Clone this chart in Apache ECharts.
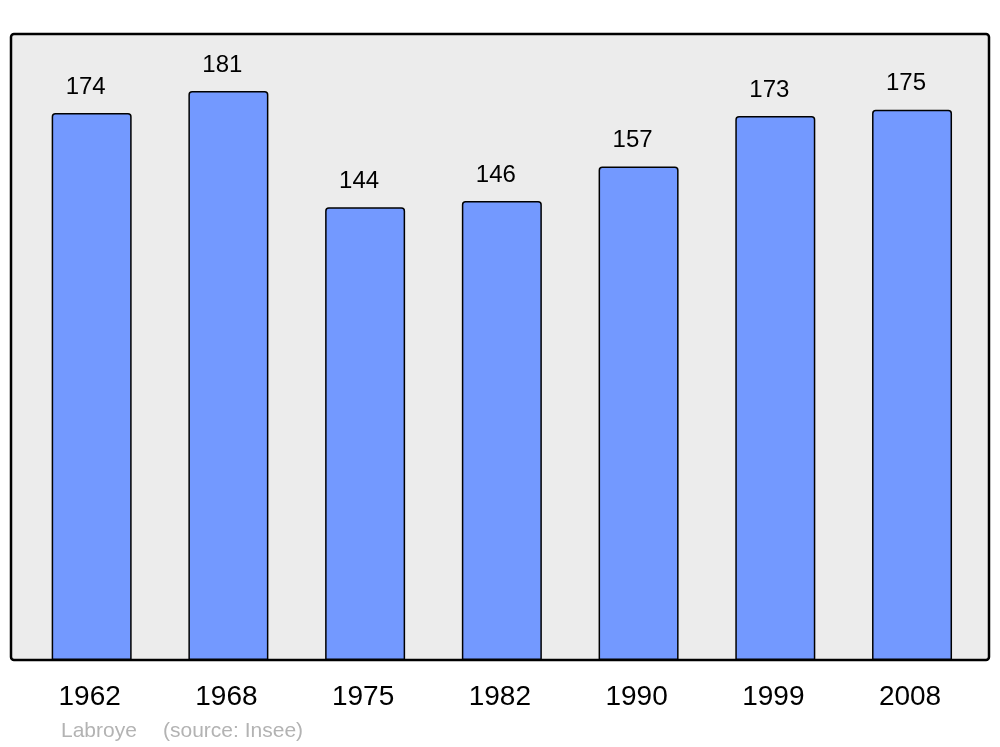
<!DOCTYPE html>
<html>
<head>
<meta charset="utf-8">
<script src="https://cdn.jsdelivr.net/npm/echarts@6/dist/echarts.min.js"></script>
<style>html,body{margin:0;padding:0;background:#fff}#c{width:1000px;height:747px}</style>
</head>
<body>
<div id="c"></div>
<script>
var years = ['1962','1968','1975','1982','1990','1999','2008'];
var population = [174,181,144,146,157,173,175];
var footerAuthor = 'Labroye';
var footerSource = '(source: Insee)';

var chart = echarts.init(document.getElementById('c'), null, {renderer:'canvas'});
chart.setOption({
  animation: false,
  backgroundColor: '#ffffff',
  graphic: [
    {type:'rect', z:-10, shape:{x:11,y:34,width:978,height:626,r:3},
     style:{fill:'#ececec',stroke:'#000',lineWidth:2.5}},
    {type:'text', left:61, top:721,
     style:{text:footerAuthor, fill:'#b3b3b3', font:'21px "Liberation Sans", Arial, sans-serif'}},
    {type:'text', left:163, top:721,
     style:{text:footerSource, fill:'#b3b3b3', font:'21px "Liberation Sans", Arial, sans-serif'}}
  ],
  grid: {left:23.3, right:19.6, top:31.2, bottom:87, containLabel:false},
  xAxis: {
    type:'category', data: years,
    axisLine:{show:false}, axisTick:{show:false},
    axisLabel:{color:'#000', fontSize:28, fontFamily:'"Liberation Sans", Arial, sans-serif', margin:23, padding:[0,4,0,0]}
  },
  yAxis: {
    type:'value', min:0, max:200, show:false, splitLine:{show:false}
  },
  series: [{
    type:'bar', data: population, barWidth:80,
    itemStyle:{color:'#7399ff', borderColor:'#000', borderWidth:1.5, borderRadius:[3,3,0,0]},
    label:{show:true, position:'top', distance:14, offset:[-6,0], color:'#000', fontSize:24,
      fontFamily:'"Liberation Sans", Arial, sans-serif'}
  }]
});
</script>
</body>
</html>
